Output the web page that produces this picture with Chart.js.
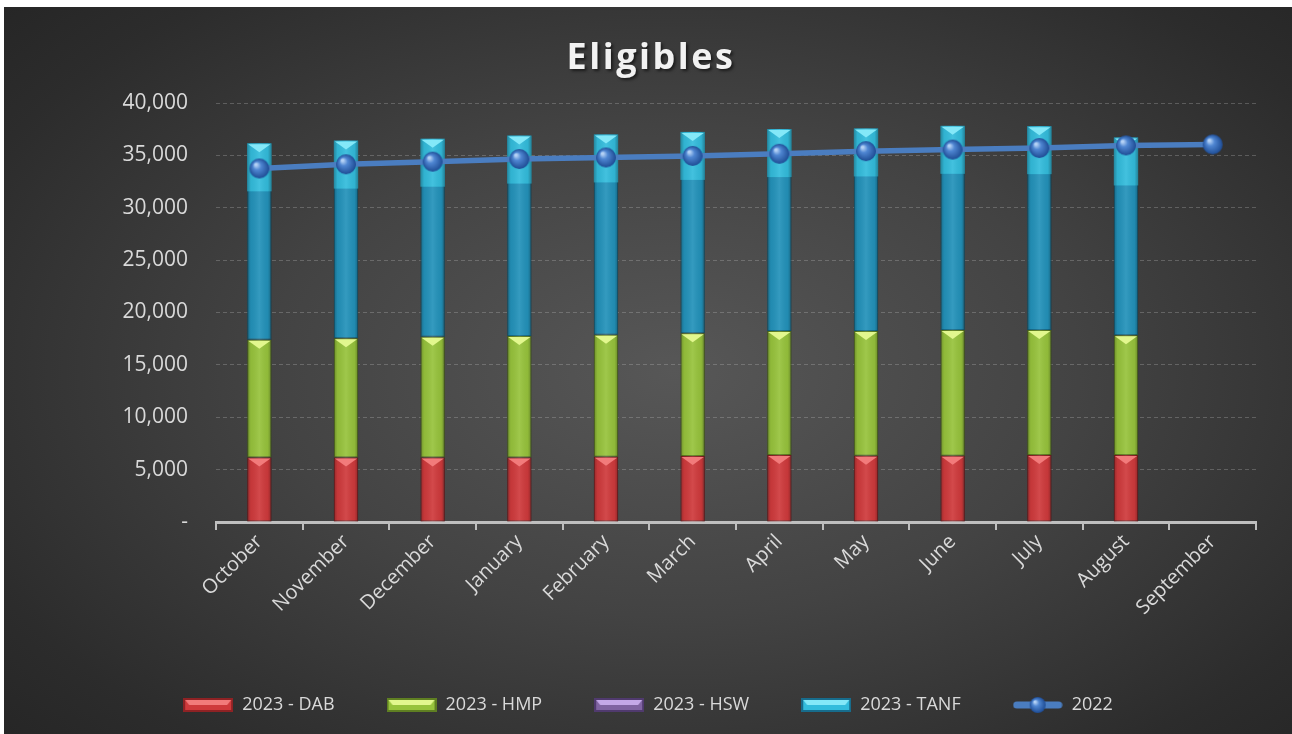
<!DOCTYPE html>
<html>
<head>
<meta charset="utf-8">
<script src="https://cdn.jsdelivr.net/npm/chart.js@4"></script>
<style>
  body { margin: 0; background: #fff; }
  #wrap {
    position: absolute; left: 4px; top: 7px; width: 1288px; height: 727px;
    background: radial-gradient(ellipse 70% 75% at 52% 50%, #575757 0%, #434343 45%, #2c2c2c 85%, #262626 100%);
  }
</style>
</head>
<body>
<div id="wrap"><canvas id="chart" width="1288" height="727"></canvas></div>
<script>
const titleText = 'Eligibles';
const months = ['October', 'November', 'December', 'January', 'February', 'March',
  'April', 'May', 'June', 'July', 'August', 'September'];
const dab = [6150, 6150, 6150, 6150, 6220, 6300, 6400, 6330, 6330, 6400, 6400, null];
const hmp = [11250, 11400, 11530, 11600, 11660, 11720, 11830, 11900, 11990, 11920, 11440, null];
const hsw = [0, 0, 0, 0, 0, 0, 0, 0, 0, 0, 0, null];
const tanf = [18750, 18860, 18910, 19140, 19120, 19220, 19280, 19340, 19500, 19470, 18870, null];
const prior = [33750, 34150, 34400, 34650, 34800, 34950, 35150, 35400, 35550, 35700, 35950, 36050];
const yTicks = { min: 0, max: 40000, step: 5000 };

const textColor = '#d9d9d9';
const lineColor = '#4a7dc0';

// base, bevel triangle, upper glow
const barStyles = {
  dab: { base: '#cf3a3c', tri: '#f27b7b', border: '#8e2224' },
  hmp: { base: '#97c33c', tri: '#e2f78e', border: '#5f7f22' },
  hsw: { base: '#8064a2', tri: '#c4a8e8', border: '#503a6e' },
  tanf: { base: '#2392ba', tri: '#84e8f8', border: '#176c8c', glow: '#33bcdc' }
};

function sphere(r) {
  const c = document.createElement('canvas');
  c.width = c.height = r * 2 + 2;
  const g = c.getContext('2d');
  const cx = r + 1;
  const grad = g.createRadialGradient(cx - r * 0.35, cx - r * 0.4, r * 0.1, cx, cx, r);
  grad.addColorStop(0, '#b5d2f5');
  grad.addColorStop(0.35, '#4f86d2');
  grad.addColorStop(1, '#1e4c94');
  g.fillStyle = grad;
  g.beginPath();
  g.arc(cx, cx, r, 0, Math.PI * 2);
  g.fill();
  return c;
}

function legendBox(st) {
  const c = document.createElement('canvas');
  c.width = 50; c.height = 14;
  const g = c.getContext('2d');
  g.fillStyle = st.border;
  g.fillRect(0, 0, 50, 14);
  g.fillStyle = st.glow || st.base;
  g.fillRect(2, 2, 46, 10);
  g.fillStyle = st.tri;
  g.beginPath();
  g.moveTo(2, 2); g.lineTo(48, 2); g.lineTo(44, 7); g.lineTo(6, 7);
  g.closePath();
  g.fill();
  return c;
}

function legendLine() {
  const c = document.createElement('canvas');
  c.width = 50; c.height = 20;
  const g = c.getContext('2d');
  g.strokeStyle = lineColor;
  g.lineWidth = 7;
  g.lineCap = 'round';
  g.beginPath();
  g.moveTo(4, 10); g.lineTo(46, 10);
  g.stroke();
  g.drawImage(sphere(8), 16, 1);
  return c;
}

const legendIcons = [
  legendBox(barStyles.dab), legendBox(barStyles.hmp), legendBox(barStyles.hsw),
  legendBox(barStyles.tanf), legendLine()
];

// shading and bevel on top of each stacked segment
const bevelPlugin = {
  id: 'bevel',
  afterDatasetDraw(chart, args) {
    const meta = args.meta;
    if (meta.type !== 'bar') return;
    const st = chart.data.datasets[args.index].bevel;
    const ctx = chart.ctx;
    ctx.save();
    meta.data.forEach(bar => {
      const p = bar.getProps(['x', 'y', 'base', 'width'], true);
      if (p.y == null || isNaN(p.y)) return;
      const h = p.base - p.y;
      if (h < 1) return;
      const l = p.x - p.width / 2, r = p.x + p.width / 2;
      if (st.glow) {
        ctx.fillStyle = st.glow;
        ctx.fillRect(l, p.y, p.width, Math.min(48, h));
      }
      const sh = ctx.createLinearGradient(l, 0, r, 0);
      sh.addColorStop(0, 'rgba(0,0,0,0.28)');
      sh.addColorStop(0.15, 'rgba(0,0,0,0.05)');
      sh.addColorStop(0.5, 'rgba(255,255,255,0.08)');
      sh.addColorStop(0.85, 'rgba(0,0,0,0.05)');
      sh.addColorStop(1, 'rgba(0,0,0,0.3)');
      ctx.fillStyle = sh;
      ctx.fillRect(l, p.y, p.width, h);
      ctx.fillStyle = st.tri;
      ctx.beginPath();
      ctx.moveTo(l + 1, p.y + 1);
      ctx.lineTo(r - 1, p.y + 1);
      ctx.lineTo(p.x, p.y + Math.min(9, h));
      ctx.closePath();
      ctx.fill();
    });
    ctx.restore();
  }
};

const titlePlugin = {
  id: 'bigTitle',
  afterDraw(chart) {
    const ctx = chart.ctx;
    ctx.save();
    ctx.font = 'bold 36px "Open Sans"';
    ctx.letterSpacing = '2.5px';
    ctx.textAlign = 'center';
    ctx.textBaseline = 'middle';
    ctx.shadowColor = 'rgba(0,0,0,0.55)';
    ctx.shadowOffsetX = 2;
    ctx.shadowOffsetY = 2;
    ctx.shadowBlur = 3;
    ctx.fillStyle = '#f2f2f2';
    ctx.fillText(titleText, chart.width / 2 + 3, 52);
    ctx.restore();
  }
};

function barSet(label, data, st) {
  return {
    type: 'bar',
    label,
    data,
    stack: 'eligibles',
    order: 1,
    bevel: st,
    backgroundColor: st.base,
    borderColor: st.border,
    borderWidth: 1,
    borderSkipped: false,
    categoryPercentage: 1,
    barPercentage: 0.28
  };
}

new Chart(document.getElementById('chart'), {
  data: {
    labels: months,
    datasets: [
      barSet('2023 - DAB', dab, barStyles.dab),
      barSet('2023 - HMP', hmp, barStyles.hmp),
      barSet('2023 - HSW', hsw, barStyles.hsw),
      barSet('2023 - TANF', tanf, barStyles.tanf),
      {
        type: 'line',
        label: '2022',
        data: prior,
        stack: 'prior',
        order: 0,
        borderColor: lineColor,
        borderWidth: 5.5,
        tension: 0,
        pointStyle: sphere(10),
        pointRadius: 10
      }
    ]
  },
  options: {
    responsive: false,
    animation: false,
    layout: { padding: { top: 96, right: 36, bottom: 10, left: 36 } },
    plugins: {
      tooltip: { enabled: false },
      legend: {
        position: 'bottom',
        labels: {
          color: textColor,
          font: { family: 'Open Sans', size: 18 },
          usePointStyle: true,
          pointStyleWidth: 50,
          boxHeight: 14,
          padding: 52,
          sort: (a, b) => a.datasetIndex - b.datasetIndex,
          generateLabels(chart) {
            const items = Chart.defaults.plugins.legend.labels.generateLabels(chart);
            items.forEach(it => { it.pointStyle = legendIcons[it.datasetIndex]; });
            return items;
          }
        }
      }
    },
    scales: {
      x: {
        stacked: true,
        offset: true,
        border: { display: true, color: '#bfbfbf', width: 3 },
        grid: {
          offset: true,
          drawOnChartArea: false,
          drawTicks: true,
          tickLength: 8,
          color: '#bfbfbf',
          lineWidth: 2
        },
        ticks: {
          color: textColor,
          font: { family: 'Open Sans', size: 20 },
          minRotation: 45,
          maxRotation: 45,
          padding: 0
        },
        afterFit(scale) { scale.height = 122; }
      },
      y: {
        stacked: true,
        min: yTicks.min,
        max: yTicks.max,
        border: { display: false, dash: [4, 3] },
        grid: {
          color: 'rgba(200,200,200,0.28)',
          lineWidth: 1,
          drawTicks: false
        },
        ticks: {
          stepSize: yTicks.step,
          color: textColor,
          font: { family: 'Open Sans', size: 21 },
          padding: 28,
          callback: v => v === 0 ? '-' : v.toLocaleString('en-US')
        },
        afterFit(scale) { scale.width = 176; }
      }
    }
  },
  plugins: [bevelPlugin, titlePlugin]
});
</script>
</body>
</html>
